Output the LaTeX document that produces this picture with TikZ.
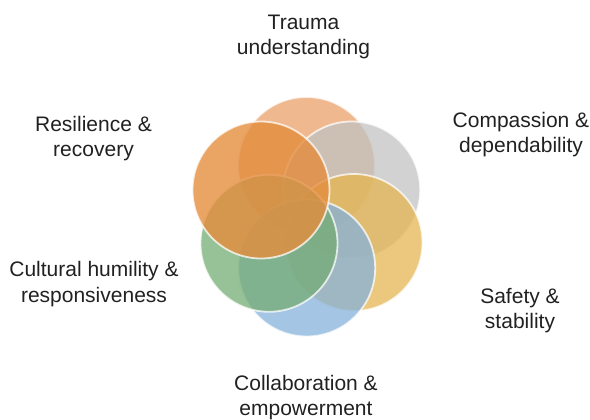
\documentclass[tikz,border=0pt]{standalone}
\usepackage{fontspec}
\setmainfont{Liberation Sans}
\definecolor{e9a068}{rgb}{0.914,0.627,0.408}
\definecolor{c2c3c2}{rgb}{0.761,0.765,0.761}
\definecolor{e4b551}{rgb}{0.894,0.71,0.318}
\definecolor{85b2db}{rgb}{0.522,0.698,0.859}
\definecolor{74ac73}{rgb}{0.455,0.675,0.451}
\definecolor{e58d3d}{rgb}{0.898,0.553,0.239}
\definecolor{tttttt}{rgb}{0.13,0.13,0.13}

\begin{document}
\begin{tikzpicture}[x=1pt,y=-1pt,
		petal/.style={line width=1.8pt,draw=white,draw opacity=0.75,fill opacity=0.75},
		lbl/.style={color=tttttt,align=center,inner sep=0pt,anchor=base,font=\fontsize{21}{25.5}\selectfont}]
		\useasboundingbox (0,0) rectangle (590,420);
		\filldraw[petal,fill=e9a068] (306.5,165.5) circle (68.5);
		\filldraw[petal,fill=c2c3c2] (351.7,190) circle (68.5);
		\filldraw[petal,fill=e4b551] (354,242.5) circle (68.5);
		\filldraw[petal,fill=85b2db] (306.7,268) circle (68.5);
		\filldraw[petal,fill=74ac73] (269,243.3) circle (68.5);
		\filldraw[petal,fill=e58d3d,fill opacity=0.8] (261,190) circle (68.5);
		\node[lbl] (trauma) at (303.5,55) {Trauma\\understanding};
		\node[lbl] (compassion) at (521,153) {Compassion \&\\dependability};
		\node[lbl] (safety) at (520,328.5) {Safety \&\\stability};
		\node[lbl] (collab) at (306,415.5) {Collaboration \&\\empowerment};
		\node[lbl] (cultural) at (94,302) {Cultural humility \&\\responsiveness};
		\node[lbl] (resilience) at (93.5,157) {Resilience \&\\recovery};
\end{tikzpicture}
\end{document}
